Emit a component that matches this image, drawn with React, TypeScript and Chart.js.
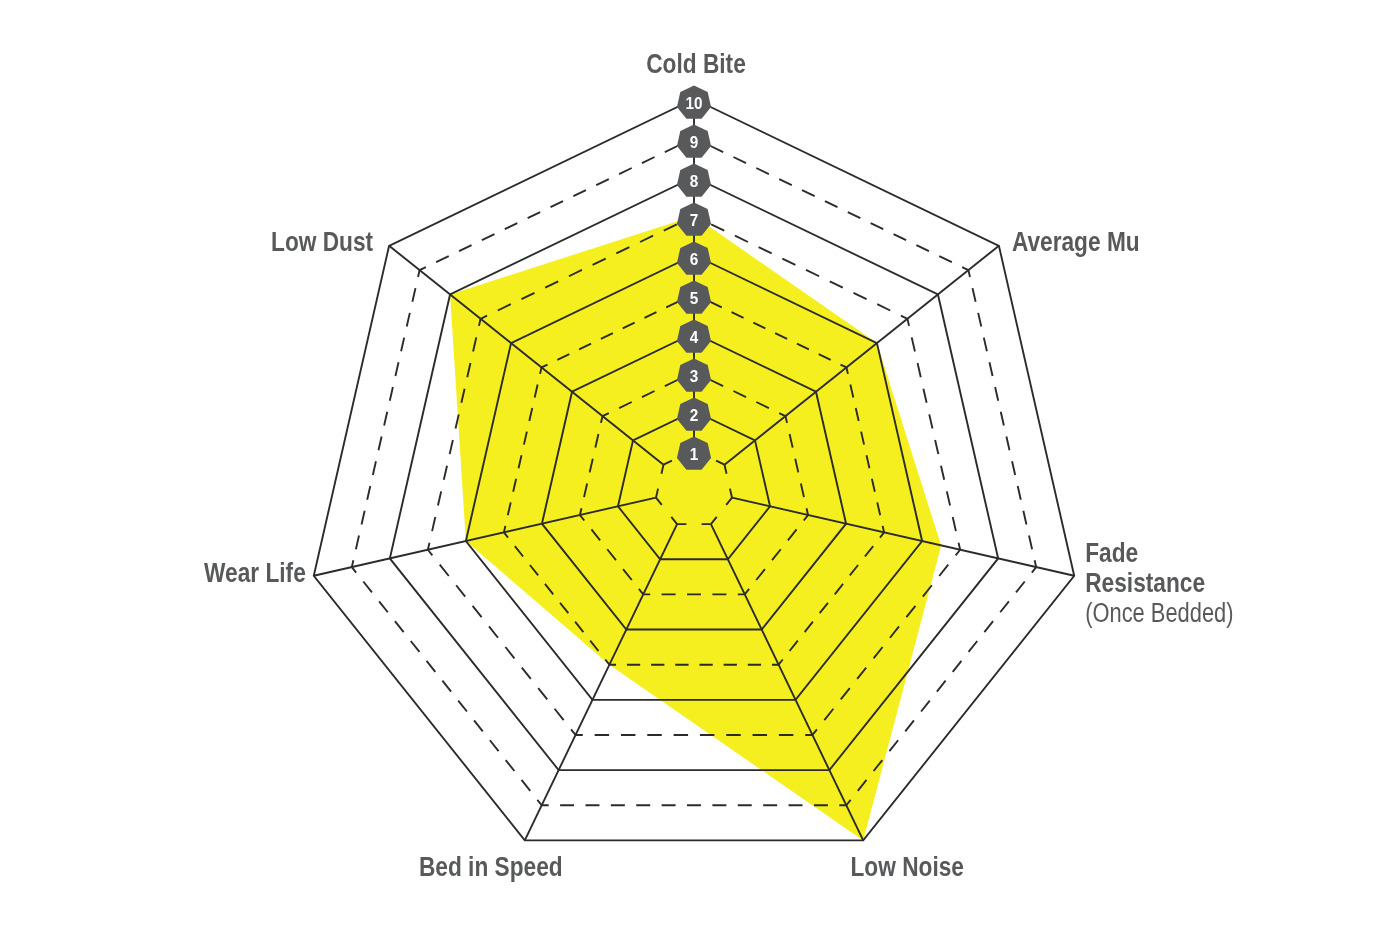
import { useEffect, useRef } from "react"
import { Chart, type ChartConfiguration, type Plugin, type RadialLinearScale, registerables } from "chart.js"

Chart.register(...registerables)

// axes, clockwise from the top
const categories = [
  "Cold Bite",
  "Average Mu",
  "Fade Resistance (Once Bedded)",
  "Low Noise",
  "Bed in Speed",
  "Wear Life",
  "Low Dust",
]
const labelLines = [
  ["Cold Bite"],
  ["Average Mu"],
  ["Fade", "Resistance", "(Once Bedded)"],
  ["Low Noise"],
  ["Bed in Speed"],
  ["Wear Life"],
  ["Low Dust"],
]
const ratings = [7, 6, 6.5, 10, 5, 6, 8]
const tickValues = [1, 2, 3, 4, 5, 6, 7, 8, 9, 10]
const tickLabels = ["1", "2", "3", "4", "5", "6", "7", "8", "9", "10"]

const YELLOW = "#f5ef1f"
const LINE = "#2b2b2b"
const GREY = "#58595b"
const FONT = "'Liberation Sans', Arial, sans-serif"
const NARROW = 0.84

// label placement relative to the outer vertex of each axis
const labelPlacement: { dx: number; dy: number; align: CanvasTextAlign }[] = [
  { dx: 2, dy: -26, align: "center" },
  { dx: 13, dy: 5, align: "left" },
  { dx: 11, dy: -14, align: "left" },
  { dx: 44, dy: 36, align: "center" },
  { dx: -34, dy: 36, align: "center" },
  { dx: -8, dy: 6, align: "right" },
  { dx: -16, dy: 5, align: "right" },
]

function narrowText(
  ctx: CanvasRenderingContext2D,
  text: string,
  x: number,
  y: number,
  align: CanvasTextAlign,
  squeeze = NARROW
) {
  ctx.save()
  ctx.translate(x, y)
  ctx.scale(squeeze, 1)
  ctx.textAlign = align
  ctx.fillText(text, 0, 0)
  ctx.restore()
}

const overlay: Plugin<"radar"> = {
  id: "padOverlay",
  afterDatasetsDraw(chart) {
    const scale = chart.scales.r as RadialLinearScale
    const ctx = chart.ctx
    const n = categories.length
    const at = (i: number, v: number) => scale.getPointPositionForValue(i, v)

    ctx.save()
    ctx.strokeStyle = LINE
    ctx.lineWidth = 1.9
    ctx.lineJoin = "miter"

    // rings: even values solid, odd values dashed
    tickValues.forEach((v) => {
      const pts = categories.map((_, i) => at(i, v))
      if (v % 2 === 0) {
        ctx.setLineDash([])
        ctx.beginPath()
        pts.forEach((p, i) => (i ? ctx.lineTo(p.x, p.y) : ctx.moveTo(p.x, p.y)))
        ctx.closePath()
        ctx.stroke()
        return
      }
      for (let i = 0; i < n; i++) {
        const a = pts[i]
        const b = pts[(i + 1) % n]
        const len = Math.hypot(b.x - a.x, b.y - a.y)
        const k = Math.max(1, Math.round(len / 26))
        const period = len / k
        const dash = period * 0.55
        ctx.setLineDash([dash, period - dash])
        ctx.lineDashOffset = dash / 2
        ctx.beginPath()
        ctx.moveTo(a.x, a.y)
        ctx.lineTo(b.x, b.y)
        ctx.stroke()
      }
    })

    // spokes from the first ring outwards
    ctx.setLineDash([])
    ctx.lineDashOffset = 0
    categories.forEach((_, i) => {
      const a = at(i, tickValues[0])
      const b = at(i, tickValues[tickValues.length - 1])
      ctx.beginPath()
      ctx.moveTo(a.x, a.y)
      ctx.lineTo(b.x, b.y)
      ctx.stroke()
    })

    // heptagon badges on the top axis
    tickValues.forEach((v, t) => {
      const p = at(0, v)
      const cy = p.y + 4
      const r = 17.5
      ctx.beginPath()
      for (let k = 0; k < 7; k++) {
        const ang = -Math.PI / 2 + (k * 2 * Math.PI) / 7
        const x = p.x + r * Math.cos(ang)
        const y = cy + r * Math.sin(ang)
        k ? ctx.lineTo(x, y) : ctx.moveTo(x, y)
      }
      ctx.closePath()
      ctx.fillStyle = GREY
      ctx.fill()
      ctx.fillStyle = "#ffffff"
      ctx.font = `bold 17px ${FONT}`
      ctx.textBaseline = "middle"
      narrowText(ctx, tickLabels[t], p.x, cy + 1, "center", 0.9)
    })

    // axis labels
    ctx.fillStyle = GREY
    ctx.textBaseline = "alphabetic"
    labelLines.forEach((lines, i) => {
      const p = at(i, tickValues[tickValues.length - 1])
      const place = labelPlacement[i]
      lines.forEach((line, j) => {
        const regular = line.startsWith("(")
        ctx.font = `${regular ? "normal" : "bold"} 27px ${FONT}`
        narrowText(ctx, line, p.x + place.dx, p.y + place.dy + j * 30, place.align, regular ? 0.81 : NARROW)
      })
    })

    ctx.restore()
  },
}

export default function App() {
  const chartRef = useRef<HTMLCanvasElement>(null)
  const chartInstance = useRef<Chart | null>(null)

  useEffect(() => {
    if (!chartRef.current) return

    const ctx = chartRef.current.getContext("2d")
    if (!ctx) return

    if (chartInstance.current) {
      chartInstance.current.destroy()
    }

    const config: ChartConfiguration<"radar"> = {
      type: "radar",
      data: {
        labels: categories,
        datasets: [
          {
            label: "Rating",
            data: ratings,
            fill: true,
            backgroundColor: YELLOW,
            borderWidth: 0,
            pointRadius: 0,
          },
        ],
      },
      options: {
        responsive: true,
        maintainAspectRatio: false,
        animation: false,
        layout: {
          padding: { top: 99, bottom: 51, left: 0, right: 12 },
        },
        plugins: {
          legend: { display: false },
          tooltip: { enabled: false },
        },
        scales: {
          r: {
            min: 0,
            max: 10,
            ticks: { display: false, stepSize: 1 },
            grid: { display: false },
            angleLines: { display: false },
            pointLabels: { display: false },
          },
        },
      },
      plugins: [overlay],
    }

    chartInstance.current = new Chart(ctx, config)

    return () => {
      if (chartInstance.current) {
        chartInstance.current.destroy()
      }
    }
  }, [])

  return (
    <div style={{ position: "absolute", left: 0, top: 0, width: 1400, height: 930, background: "#fff" }}>
      <canvas ref={chartRef} />
    </div>
  )
}
